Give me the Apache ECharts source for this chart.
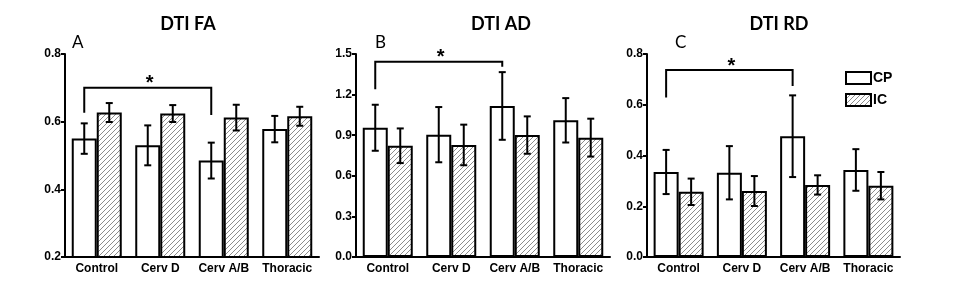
<!DOCTYPE html>
<html>
<head>
<meta charset="utf-8">
<script src="https://cdn.jsdelivr.net/npm/echarts@6/dist/echarts.min.js"></script>
<style>
    html, body { margin: 0; padding: 0; background: #fff; }
    #main { width: 953px; height: 306px; }
</style>
</head>
<body>
<div id="main"></div>
<script>
    // groups along the x axis
    const categories = ['Control', 'Cerv D', 'Cerv A/B', 'Thoracic'];

    // DTI FA
    const faCP = [0.550, 0.530, 0.485, 0.578];
    const faCPerr = [0.045, 0.059, 0.053, 0.039];
    const faIC = [0.627, 0.624, 0.612, 0.616];
    const faICerr = [0.028, 0.025, 0.038, 0.028];

    // DTI AD
    const adCP = [0.955, 0.904, 1.116, 1.010];
    const adCPerr = [0.170, 0.204, 0.250, 0.164];
    const adIC = [0.822, 0.828, 0.901, 0.882];
    const adICerr = [0.128, 0.150, 0.138, 0.140];

    // DTI RD
    const rdCP = [0.335, 0.332, 0.476, 0.343];
    const rdCPerr = [0.087, 0.105, 0.161, 0.082];
    const rdIC = [0.257, 0.260, 0.284, 0.281];
    const rdICerr = [0.052, 0.059, 0.038, 0.054];

    // significance brackets: [from group, to group, bracket level, left end, right end]
    const sigFA = [[0, 2, 0.700, 0.626, 0.620]];
    const sigAD = [[0, 2, 1.443, 1.239, 1.406]];
    const sigRD = [[0, 2, 0.737, 0.629, 0.674]];

    // y axis ranges
    const yMin = [0.2, 0, 0];
    const yMax = [0.8, 1.5, 0.8];
    const yStep = [0.2, 0.3, 0.2];

    const titles = ['DTI FA', 'DTI AD', 'DTI RD'];
    const letters = ['A', 'B', 'C'];

    const BAR_W = 25;
    const LBL_FONT = '"Liberation Sans", Arial, sans-serif';
    const HEAD_FONT = 'Lato, "Open Sans", sans-serif';

    function hatch() {
        const c = document.createElement('canvas');
        c.width = 5; c.height = 5;
        const g = c.getContext('2d');
        g.fillStyle = '#fff';
        g.fillRect(0, 0, 5, 5);
        g.strokeStyle = '#8c8c8c';
        g.lineWidth = 1;
        g.beginPath();
        g.moveTo(0, 5); g.lineTo(5, 0);
        g.moveTo(-1, 1); g.lineTo(1, -1);
        g.moveTo(4, 6); g.lineTo(6, 4);
        g.stroke();
        return c;
    }
    const hatchFill = { image: hatch(), repeat: 'repeat' };

    const grids = [
        { left: 65, top: 54, width: 254, height: 203 },
        { left: 356, top: 54, width: 254, height: 203 },
        { left: 647, top: 54, width: 253, height: 203 }
    ];
    const titleX = [183, 496, 774];
    const letterX = [67, 370, 670];

    function errBars(i, means, errs, off) {
        return {
            type: 'custom',
            xAxisIndex: i,
            yAxisIndex: i,
            z: 5,
            encode: { x: 0, y: 1 },
            data: means.map((v, k) => [k, v, errs[k]]),
            renderItem: function (params, api) {
                const c = api.coord([api.value(0), api.value(1)]);
                const x = c[0] + off;
                const hi = api.coord([api.value(0), api.value(1) + api.value(2)])[1];
                const lo = api.coord([api.value(0), api.value(1) - api.value(2)])[1];
                const st = { stroke: '#000', lineWidth: 2 };
                return {
                    type: 'group',
                    children: [
                        { type: 'line', shape: { x1: x, y1: hi, x2: x, y2: lo }, style: st },
                        { type: 'line', shape: { x1: x - 3.5, y1: hi, x2: x + 3.5, y2: hi }, style: st },
                        { type: 'line', shape: { x1: x - 3.5, y1: lo, x2: x + 3.5, y2: lo }, style: st }
                    ]
                };
            }
        };
    }

    function bracket(i, sig) {
        return {
            type: 'custom',
            xAxisIndex: i,
            yAxisIndex: i,
            z: 6,
            encode: { x: [0, 1], y: [2, 3, 4] },
            data: sig,
            renderItem: function (params, api) {
                const x1 = api.coord([api.value(0), api.value(2)])[0] - BAR_W / 2;
                const x2 = api.coord([api.value(1), api.value(2)])[0] - BAR_W / 2;
                const yT = api.coord([api.value(0), api.value(2)])[1];
                const yL = api.coord([api.value(0), api.value(3)])[1];
                const yR = api.coord([api.value(1), api.value(4)])[1];
                return {
                    type: 'group',
                    children: [
                        {
                            type: 'polyline',
                            shape: { points: [[x1, yL], [x1, yT], [x2, yT], [x2, yR]] },
                            style: { stroke: '#000', lineWidth: 2, fill: null }
                        },
                        {
                            type: 'text',
                            style: {
                                text: '*', x: (x1 + x2) / 2 + 2, y: yT - 4,
                                textAlign: 'center', textVerticalAlign: 'middle',
                                font: 'bold 20px ' + LBL_FONT, fill: '#000'
                            }
                        }
                    ]
                };
            }
        };
    }

    const cp = [faCP, adCP, rdCP];
    const cpErr = [faCPerr, adCPerr, rdCPerr];
    const ic = [faIC, adIC, rdIC];
    const icErr = [faICerr, adICerr, rdICerr];
    const sigs = [sigFA, sigAD, sigRD];

    const series = [];
    for (let i = 0; i < 3; i++) {
        series.push({
            name: 'CP', type: 'bar', xAxisIndex: i, yAxisIndex: i,
            data: cp[i], barWidth: BAR_W, barGap: '0%',
            itemStyle: { color: '#fff', borderColor: '#000', borderWidth: 2 }
        });
        series.push({
            name: 'IC', type: 'bar', xAxisIndex: i, yAxisIndex: i,
            data: ic[i], barWidth: BAR_W, barGap: '0%',
            itemStyle: { color: hatchFill, borderColor: '#000', borderWidth: 2 }
        });
        series.push(errBars(i, cp[i], cpErr[i], -BAR_W / 2));
        series.push(errBars(i, ic[i], icErr[i], BAR_W / 2));
        series.push(bracket(i, sigs[i]));
    }

    const title = [];
    for (let i = 0; i < 3; i++) {
        title.push({
            text: titles[i], left: titleX[i], top: 10, textAlign: 'center',
            textStyle: { fontFamily: HEAD_FONT, fontWeight: 'bold', fontSize: 18, color: '#000' }
        });
        title.push({
            text: letters[i], left: letterX[i], top: 29,
            textStyle: { fontFamily: HEAD_FONT, fontWeight: 'normal', fontSize: 17, color: '#000' }
        });
    }

    const option = {
        animation: false,
        backgroundColor: '#fff',
        title: title,
        legend: {
            data: ['CP', 'IC'],
            orient: 'vertical',
            left: 840, top: 66,
            itemWidth: 25, itemHeight: 12, itemGap: 8,
            selectedMode: false,
            icon: 'rect',
            textStyle: { fontFamily: LBL_FONT, fontWeight: 'bold', fontSize: 14, color: '#000', padding: [0, 0, 0, -3] }
        },
        grid: grids,
        xAxis: grids.map((g, i) => ({
            type: 'category',
            gridIndex: i,
            data: categories,
            axisLine: { lineStyle: { color: '#000', width: 2 } },
            axisTick: { alignWithLabel: true, length: 4, lineStyle: { color: '#000', width: 2 } },
            axisLabel: { margin: 6, color: '#000', fontFamily: LBL_FONT, fontWeight: 'bold', fontSize: 12, interval: 0 },
            splitLine: { show: false }
        })),
        yAxis: grids.map((g, i) => ({
            type: 'value',
            gridIndex: i,
            min: yMin[i], max: yMax[i], interval: yStep[i],
            axisLine: { show: true, onZero: false, lineStyle: { color: '#000', width: 2 } },
            axisTick: { show: true, length: 4, lineStyle: { color: '#000', width: 2 } },
            axisLabel: {
                margin: 4, color: '#000', fontFamily: LBL_FONT, fontWeight: 'bold', fontSize: 12,
                formatter: v => v.toFixed(1)
            },
            splitLine: { show: false }
        })),
        series: series
    };

    echarts.init(document.getElementById('main')).setOption(option);
</script>
</body>
</html>
